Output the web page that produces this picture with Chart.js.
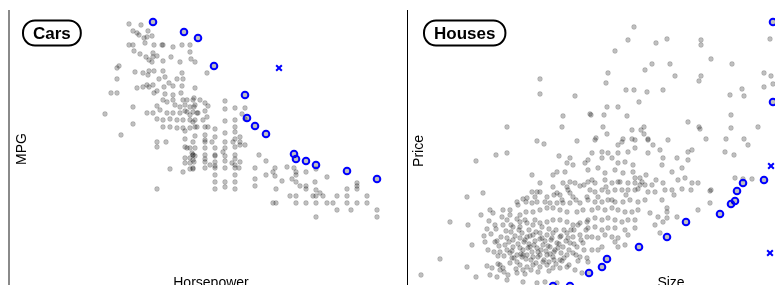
<!DOCTYPE html>
<html>
<head>
<meta charset="utf-8">
<script src="https://cdn.jsdelivr.net/npm/chart.js@4.4.1/dist/chart.umd.min.js"></script>
<style>
  html, body { margin: 0; padding: 0; background: #fff; overflow: hidden; }
  #wrap { position: relative; width: 775px; height: 285px; overflow: hidden; }
  #cars { position: absolute; left: 0; top: 0; }
  #houses { position: absolute; left: 397px; top: 0; }
</style>
</head>
<body>
<div id="wrap">
  <canvas id="cars" width="397" height="295"></canvas>
  <canvas id="houses" width="538" height="295"></canvas>
</div>
<script>
// Cars: horsepower vs mpg
const carsHp = [
  89.5, 95.5, 91.5, 93.5, 94.5, 99, 98.5, 101, 97, 97.5,
  89.5, 91.5, 102, 106, 106.5, 111.5, 116, 120, 92, 95,
  98, 99.5, 101.5, 101.5, 103.5, 101, 106.5, 110.5, 115, 120,
  120.5, 122.5, 84.5, 83.5, 92.5, 96.5, 99.5, 102, 99, 106.5,
  107.5, 104.5, 109.5, 113.5, 116.5, 116, 83.5, 93.5, 96.5, 98.5,
  101.5, 103.5, 99.5, 107, 111.5, 116, 111.5, 115.5, 122.5, 80.5,
  83.5, 102, 107.5, 91.5, 106.5, 111.5, 115, 116.5, 118.5, 121.5,
  125, 77.5, 98.5, 101.5, 103.5, 105, 108.5, 111.5, 115, 118.5,
  121.5, 123.5, 91.5, 103.5, 106.5, 110, 113.5, 116.5, 120, 121.5,
  85.5, 106.5, 110, 113.5, 116.5, 120, 123.5, 103.5, 108, 103.5,
  117.5, 118.5, 121, 121.5, 117.5, 120, 121.5, 117.5, 120, 110,
  116.5, 120, 121.5, 103.5, 128.5, 122, 127.5, 129, 137.5, 137.5,
  147.5, 146, 147.5, 120, 122, 124, 128.5, 120, 126.5, 122.5,
  142.5, 142.5, 142.5, 137.5, 145, 122.5, 127.5, 129, 132.5, 127.5,
  122.5, 121.5, 127.5, 131, 137.5, 141.5, 145, 147.5, 120, 122.5,
  127.5, 132.5, 137.5, 142.5, 145, 121.5, 127.5, 132.5, 136.5, 142.5,
  154.5, 122, 127.5, 130, 132.5, 137.5, 141, 142.5, 145, 158,
  121.5, 127.5, 132.5, 137.5, 142.5, 144.5, 152.5, 162.5, 161.5, 168.5,
  172, 173, 173, 178, 183, 158, 162.5, 188.5, 132.5, 142.5,
  152.5, 166, 171, 173, 175, 178, 178, 182.5, 183, 185,
  132.5, 137.5, 142.5, 152.5, 163, 132.5, 142.5, 170, 173, 181.5,
  183, 186.5, 193.5, 198.5, 198.5, 203.5, 203.5, 203.5, 208.5, 161.5,
  163, 173, 178, 183, 188.5, 191.5, 198.5, 203.5, 208.5, 193.5,
  200.5, 213.5, 183, 213.5,
  117.5, 117.5, 117.5, 117.5, 132.5, 132.5, 132.5, 137.5, 137.5, 137.5,
  142.5, 142.5, 142.5, 127.5, 127.5, 127.5, 122.5, 122.5, 112.5, 108.5
];
const carsMpg = [
  49.2, 49, 47.8, 47.4, 47, 47.8, 46.6, 46.8, 46.4, 45.4,
  45, 45, 45, 45, 45, 44.6, 45, 45, 43.8, 43.2,
  42.6, 42, 43.4, 42.6, 42.8, 41.6, 41.8, 42.6, 41.6, 43.6,
  42.2, 41.6, 40.8, 40.4, 39.6, 39.4, 39.8, 39.8, 39, 39.8,
  38.6, 38.2, 37.4, 38.2, 38.2, 39.4, 38.2, 36.4, 36.6, 37,
  37, 35.8, 36.6, 36.6, 36.8, 36.8, 35, 35.4, 36.4, 35.4,
  35.4, 35.4, 35.2, 32.6, 34, 34, 32.6, 34, 34, 34,
  34, 31.2, 31.4, 31.4, 32.8, 32, 31.4, 31.4, 31.4, 31.6,
  31.6, 31.4, 29.2, 30.2, 30, 30.2, 30, 30, 30, 29.6,
  27, 28.6, 28.6, 28.4, 28.4, 28.4, 28.6, 25.6, 25.6, 24.6,
  24.6, 24.4, 23.4, 23, 22.4, 22.4, 22, 21.4, 21.4, 20.2,
  19.6, 20.2, 20.2, 16.2, 39.4, 34.4, 33.4, 32.8, 33.8, 32.2,
  32.4, 31.2, 30.2, 32.6, 32.6, 31.4, 30.6, 31, 30, 30,
  30, 28.6, 27.6, 27.4, 26.6, 28.6, 28.6, 28.6, 28.2, 27,
  26.8, 25.6, 25.6, 25.6, 25.6, 25.6, 25.6, 25, 24.4, 24.4,
  24.4, 24.4, 24.4, 24.6, 25, 23, 23, 23, 23.6, 23,
  23, 21.6, 21.6, 21, 21.6, 21.8, 21.4, 21, 21.6, 21.8,
  20.4, 20.4, 20.4, 20.4, 20.4, 20.4, 20.4, 20.4, 19.6, 20.6,
  20.4, 19.6, 19, 19.6, 20.2, 19, 18.8, 18.6, 19, 19,
  18.2, 17.8, 18.2, 17.6, 16.8, 16.8, 16.2, 17.6, 16, 15.4,
  17.6, 17.6, 17.6, 16.8, 16.2, 16.2, 16.2, 14.8, 14.8, 14.8,
  14.8, 14.8, 14.8, 16.2, 14.8, 17.4, 16.8, 16.2, 14.8, 13.4,
  13.4, 13.4, 13.4, 13.4, 13.4, 13.4, 13.4, 13.4, 13.4, 12,
  12, 12, 10.6, 10.6,
  33, 31.8, 27.8, 26.2, 26.6, 22.8, 20.8, 29.8, 22.8, 16.6,
  32.4, 26.2, 22.2, 31.8, 26, 22.2, 22.8, 33, 33, 33.6
];
const carsFrontierHp = [101.5, 117, 124, 132, 147.5, 148.5, 152.5, 158, 172, 173, 178, 183, 198.5, 213.5];
const carsFrontierMpg = [49.6, 47.6, 46.4, 40.8, 35, 30.4, 28.8, 27.2, 23.2, 22.2, 21.8, 21, 19.8, 18.2];
const carsOutlierHp = [164.5];
const carsOutlierMpg = [40.4];

// Houses: size (sq ft) vs price ($k)
const housesSize = [
  1900, 1900, 2250, 2130, 2120, 1570, 2400, 2840, 2780, 2650,
  3060, 3170, 3510, 3510, 3610, 3820, 4200, 2580, 2560, 2950,
  3020, 3200, 3250, 3510, 3490, 4140, 4210, 4230, 4140, 2760,
  2840, 2970, 3130, 2890, 2570, 2680, 2410, 2540, 2770, 3800,
  3920, 3940, 3810, 3380, 3490, 3500, 3810, 4080, 2530, 2570,
  2820, 2910, 2940, 2940, 2460, 2730, 2820, 2980, 3560, 3760,
  3940, 2450, 2680, 2720, 2850, 2980, 3030, 3180, 3980, 2420,
  2520, 2580, 2680, 2780, 2850, 2980, 3100, 3130, 3270, 3380,
  3420, 3750, 3840, 2380, 2520, 2620, 2680, 2750, 2830, 2380,
  2480, 2550, 2650, 2730, 2830, 2850, 2900, 3120, 3220, 3320,
  3380, 2380, 2450, 2550, 2620, 2680, 2780, 2850, 2920, 2950,
  3020, 3130, 3280, 3350, 3420, 3480, 3600, 3850, 3930, 4020,
  2400, 2450, 2520, 2580, 2650, 2720, 2780, 2850, 2880, 2980,
  3050, 3220, 3320, 3410, 3610, 2380, 2450, 2520, 2580, 2650,
  2730, 2800, 2880, 2950, 3120, 3600, 2420, 2480, 2550, 2620,
  2680, 2750, 2820, 2880, 3000, 3170, 3170, 3480, 2380, 2450,
  2520, 2580, 2650, 2720, 2780, 2850, 3080, 3170, 3270, 2380,
  2450, 2520, 2580, 2650, 2750, 2850, 3050, 3130, 2420, 2480,
  2550, 2620, 2680, 2780, 2650, 2750, 2680, 2420, 2520, 3100,
  2380, 2480, 1870, 1940, 2270, 1460, 1570, 1260, 2090, 2200,
  2230, 2170, 2070, 2030, 2150, 2350, 1820, 1900, 2030, 2130,
  2200, 2250, 2170, 2300, 1330, 1170, 1820, 1900, 1870, 1970,
  2070, 2100, 2200, 2230, 2370, 1670, 1730, 1770, 1820, 1870,
  2000, 2070, 2130, 2200, 2300, 1400, 1430, 1530, 1600, 1520,
  1570, 1670, 1700, 1750, 1830, 1900, 1970, 2030, 2100, 2170,
  2270, 2330, 1000, 1180, 1370, 1530, 1630, 1700, 1770, 1830,
  1900, 1970, 2030, 2100, 2170, 2230, 2300, 2370, 1220, 1350,
  1450, 1470, 1570, 1630, 1700, 1770, 1830, 1900, 1970, 2030,
  2100, 2170, 2230, 2300, 2370, 1380, 1500, 1570, 1630, 1700,
  1730, 1800, 1870, 1930, 2000, 2070, 2130, 2200, 2270, 2330,
  900, 1170, 1370, 1420, 1500, 1530, 1600, 1670, 1720, 1770,
  1830, 1900, 1970, 2030, 2100, 2170, 2230, 2300, 2370, 1600,
  1670, 1730, 710, 1260, 1400, 1470, 1500, 1580, 1670, 1730,
  1770, 1830, 1900, 1970, 2030, 2100, 2170, 2250, 2320, 1570,
  1730, 1870, 1950, 2070,
  1750, 1790, 1850, 1880, 1920, 1960, 2010, 2050, 1810, 1860,
  1940, 1990, 2040, 2080, 1680, 1720, 1790, 1640, 1550, 1480,
  2140, 2180, 2240, 2110, 1850, 1920, 1990, 1760, 1700, 1610,
  1310, 1340, 1390, 1410, 1440, 1460, 1490, 1510, 1540, 1560,
  1590, 1610, 1620, 1650, 1660, 1690, 1710, 1740, 1760, 1780,
  1800, 1820, 1840, 1860, 1880, 1900, 1910, 1930, 1950, 1980,
  2000, 2020, 2040, 2060, 2090, 2110, 2140, 2160, 2190, 2210,
  2240, 2260, 2280, 2310, 2340, 2360, 1480, 1540, 1620, 1700,
  1750, 1810, 1880, 1990, 2060, 2120, 2190, 2280, 1450, 1600,
  1680, 1760, 1850, 1950, 2040, 2120, 2180, 2260, 2340, 2420,
  2480, 2560, 2620, 2700, 2760, 2900, 2960, 3060, 3150, 3240
];
const housesPrice = [
  442, 412, 408, 368, 346, 346, 372, 546, 520, 498,
  514, 522, 520, 510, 482, 472, 522, 454, 434, 460,
  472, 472, 448, 448, 438, 454, 448, 432, 426, 420,
  420, 416, 420, 396, 386, 386, 370, 370, 368, 410,
  422, 408, 370, 356, 346, 342, 344, 346, 346, 332,
  340, 340, 346, 332, 324, 322, 322, 322, 322, 322,
  322, 320, 310, 316, 320, 320, 310, 320, 310, 294,
  296, 294, 294, 296, 304, 294, 300, 284, 284, 296,
  300, 296, 290, 280, 284, 284, 274, 276, 270, 260,
  264, 254, 260, 254, 256, 244, 244, 270, 256, 264,
  280, 236, 234, 240, 234, 236, 234, 234, 236, 230,
  230, 234, 240, 244, 234, 234, 218, 244, 242, 242,
  220, 216, 220, 216, 220, 220, 220, 220, 222, 216,
  216, 220, 222, 220, 220, 200, 196, 196, 200, 196,
  196, 200, 196, 200, 200, 194, 180, 184, 180, 184,
  180, 176, 176, 180, 174, 184, 176, 180, 160, 164,
  160, 164, 160, 156, 160, 160, 166, 164, 166, 144,
  146, 140, 144, 144, 140, 144, 150, 156, 126, 124,
  130, 126, 124, 130, 116, 110, 106, 100, 106, 134,
  76, 100, 318, 312, 318, 290, 294, 278, 288, 284,
  270, 274, 256, 250, 256, 274, 250, 234, 226, 234,
  236, 234, 226, 228, 214, 206, 216, 216, 216, 206,
  214, 210, 214, 206, 206, 196, 202, 204, 194, 196,
  194, 194, 194, 194, 194, 180, 174, 180, 180, 166,
  160, 162, 156, 160, 176, 180, 184, 184, 180, 176,
  176, 180, 156, 150, 142, 150, 146, 146, 154, 150,
  154, 156, 160, 160, 156, 150, 154, 156, 110, 116,
  116, 118, 124, 120, 124, 126, 130, 134, 130, 134,
  126, 134, 126, 130, 126, 100, 96, 100, 106, 104,
  100, 106, 104, 110, 106, 114, 106, 114, 106, 114,
  82, 66, 68, 64, 70, 64, 74, 76, 86, 90,
  86, 90, 90, 86, 80, 90, 94, 86, 84, 94,
  90, 90, 50, 46, 50, 46, 60, 50, 54, 60,
  66, 70, 66, 70, 64, 64, 66, 60, 54, 40,
  36, 34, 36, 34,
  120, 112, 118, 96, 124, 98, 120, 100, 80, 74,
  80, 76, 96, 104, 112, 134, 140, 84, 110, 88,
  140, 124, 140, 94, 160, 146, 142, 176, 170, 136,
  170, 128, 158, 132, 96, 142, 108, 126, 88, 138,
  116, 150, 98, 128, 62, 140, 92, 116, 82, 104,
  128, 96, 110, 136, 86, 122, 100, 76, 118, 108,
  92, 124, 80, 140, 112, 128, 84, 118, 100, 140,
  112, 90, 150, 120, 100, 140, 72, 56, 84, 70,
  52, 60, 56, 58, 72, 78, 70, 78, 150, 170,
  190, 196, 206, 196, 210, 200, 220, 200, 230, 240,
  206, 226, 200, 236, 210, 230, 250, 240, 220, 210
];
const housesFrontierSize = [4230, 4230, 4140, 3930, 3870, 3850, 3810, 3700, 3360, 3170, 2890, 2570, 2520, 2390, 2200, 2030];
const housesFrontierPrice = [556, 396, 240, 234, 218, 198, 192, 172, 156, 126, 106, 82, 66, 54, 28, 28];
const housesOutlierSize = [4210, 4200];
const housesOutlierPrice = [268, 94];

function toPoints(xs, ys) {
  return xs.map((x, i) => ({ x: x, y: ys[i] }));
}

const grayFill = 'rgba(0,0,0,0.25)';
const blue = '#0000ff';

// axis line, pill title and axis labels drawn on top of the plot area
const panelFrame = {
  id: 'panelFrame',
  afterDraw(chart, args, opts) {
    const ctx = chart.ctx;
    const a = chart.chartArea;
    ctx.save();
    ctx.fillStyle = opts.axisColor;
    ctx.fillRect(opts.axisX, a.top, opts.axisWidth, chart.height - a.top);

    ctx.font = 'bold 17px "Liberation Sans", Arial, sans-serif';
    const tw = ctx.measureText(opts.title).width;
    const bw = tw + 20, bh = 25, bx = opts.boxX, by = 20.5;
    ctx.beginPath();
    ctx.roundRect(bx, by, bw, bh, 12);
    ctx.fillStyle = '#fff';
    ctx.fill();
    ctx.lineWidth = 2;
    ctx.strokeStyle = '#000';
    ctx.stroke();
    ctx.fillStyle = '#000';
    ctx.textAlign = 'center';
    ctx.textBaseline = 'middle';
    ctx.fillText(opts.title, bx + bw / 2, by + bh / 2 + 1);

    ctx.font = '14px "Liberation Sans", Arial, sans-serif';
    ctx.textBaseline = 'alphabetic';
    ctx.fillText(opts.xLabel, opts.xLabelX, 287);
    ctx.translate(opts.yLabelX, opts.yLabelY);
    ctx.rotate(-Math.PI / 2);
    ctx.fillText(opts.yLabel, 0, 0);
    ctx.restore();
  }
};

function makeChart(id, sets, xr, yr, frame) {
  return new Chart(document.getElementById(id), {
    type: 'scatter',
    data: {
      datasets: [
        { data: sets.outlier, pointStyle: 'crossRot', radius: 4, borderWidth: 2, borderColor: blue, order: 0 },
        { data: sets.frontier, radius: 3.3, borderWidth: 2, borderColor: blue, backgroundColor: grayFill, order: 1 },
        { data: sets.gray, radius: 2.4, borderWidth: 0.8, borderColor: 'rgba(0,0,0,0.18)', backgroundColor: grayFill, order: 2 }
      ]
    },
    options: {
      responsive: false,
      animation: false,
      events: [],
      layout: { autoPadding: false, padding: { left: 10, top: 10, right: 0, bottom: 5 } },
      scales: {
        x: { type: 'linear', display: false, min: xr[0], max: xr[1] },
        y: { type: 'linear', display: false, min: yr[0], max: yr[1] }
      },
      plugins: {
        legend: { display: false },
        tooltip: { enabled: false },
        panelFrame: frame
      }
    },
    plugins: [panelFrame]
  });
}

makeChart('cars', {
  gray: toPoints(carsHp, carsMpg),
  frontier: toPoints(carsFrontierHp, carsFrontierMpg),
  outlier: toPoints(carsOutlierHp, carsOutlierMpg)
}, [30, 223.5], [-4, 52], {
  title: 'Cars', xLabel: 'Horsepower', yLabel: 'MPG',
  axisColor: '#8a8a8a', axisX: 8, axisWidth: 2,
  boxX: 23, xLabelX: 211, yLabelX: 26, yLabelY: 149
});

makeChart('houses', {
  gray: toPoints(housesSize, housesPrice),
  frontier: toPoints(housesFrontierSize, housesFrontierPrice),
  outlier: toPoints(housesOutlierSize, housesOutlierPrice)
}, [570, 5850], [20, 580], {
  title: 'Houses', xLabel: 'Size', yLabel: 'Price',
  axisColor: '#000', axisX: 10, axisWidth: 1,
  boxX: 27, xLabelX: 274, yLabelX: 26, yLabelY: 151
});
</script>
</body>
</html>
